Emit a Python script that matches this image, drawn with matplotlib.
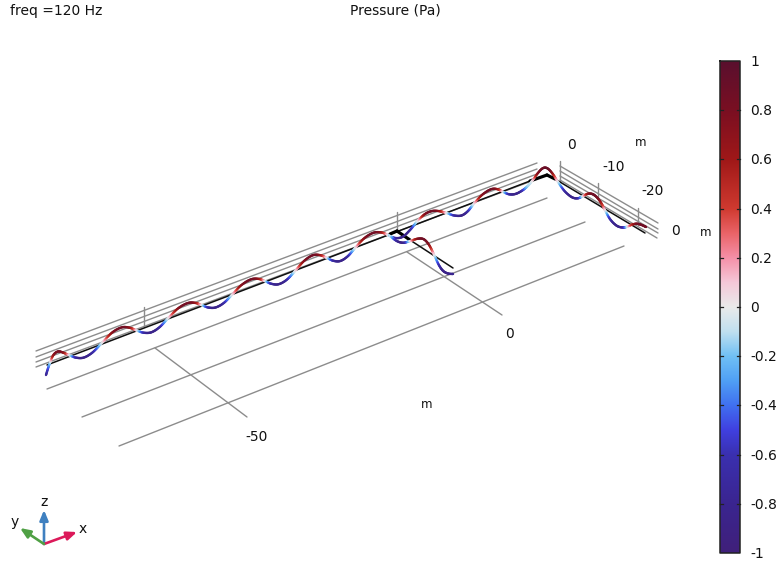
import numpy as np
import matplotlib
matplotlib.use("Agg")
import matplotlib.pyplot as plt
from matplotlib.collections import LineCollection
from matplotlib.colors import LinearSegmentedColormap, Normalize

# Pressure wave: screen x, screen y, pressure value
wave_main_x = [46, 49, 53, 58, 63, 70, 76, 84, 92, 103, 112, 123, 131, 137, 144, 151, 160, 168, 178, 189, 196, 202,
               208, 215, 224, 232, 241, 252, 260, 265, 271, 278, 287, 295, 304, 313, 321, 327, 333, 340, 348, 355,
               364, 374, 382, 388]
wave_main_y = [375, 366, 352, 351, 352, 356, 358, 359, 354, 342, 331, 325, 328, 331, 333, 334, 328, 318, 307, 301, 303, 305,
               308, 309, 304, 295, 284, 277, 279, 281, 284, 286, 281, 271, 260, 253, 255, 258, 261, 263, 257, 248,
               237, 231, 232, 235]
wave_main_p = [-0.8, -0.3, 0.6, 0.8, 0.7, 0.0, -0.7, -0.85, -0.7, 0.0, 0.7, 0.85, 0.65, 0.0, -0.65, -0.85, -0.7, 0.0, 0.7, 0.85, 0.65, 0.0,
               -0.65, -0.85, -0.7, 0.0, 0.7, 0.85, 0.65, 0.0, -0.65, -0.85, -0.7, 0.0, 0.7, 0.85, 0.65, 0.0, -0.65, -0.85, -0.7, 0.0,
               0.7, 0.85, 0.65, 0.0]
wave_east_x = [388, 395, 403, 410, 418, 425, 432, 440, 447, 454, 462, 468, 473, 482, 492, 498, 503, 509, 515, 522, 527, 532, 538, 543, 547,
               552, 558, 564, 573, 578, 583]
wave_east_y = [235, 239, 239, 230, 220, 213, 210, 211, 213, 216, 217, 212, 204, 194, 187, 189, 192, 195, 195, 191, 187, 182, 172, 167, 167,
               172, 182, 192, 199, 199, 196]
wave_east_p = [0.0, -0.65, -0.85, -0.7, 0.0, 0.7, 0.85, 0.65, 0.0, -0.65, -0.85, -0.7, 0.0, 0.7, 0.85, 0.65, 0.0, -0.65, -0.85, -0.7, -0.2, 0.0,
               0.7, 0.85, 0.9, 0.7, 0.0, -0.65, -0.85, -0.7, 0.0]
wave_side_x = [583, 588, 593, 598, 602, 605, 610, 617, 623, 628, 632, 637, 642, 646]
wave_side_y = [196, 193, 193, 198, 204, 210, 221, 227, 228, 227, 224, 223, 225, 227]
wave_side_p = [0.0, 0.65, 0.85, 0.8, 0.55, 0.0, -0.65, -0.85, -0.7, 0.0, 0.5, 0.8, 0.85, 0.85]
wave_branch_x = [390, 397, 403, 410, 418, 424, 429, 435, 439, 443, 448, 453]
wave_branch_y = [236, 242, 244, 241, 238, 238, 243, 257, 266, 272, 274, 274]
wave_branch_p = [0.0, -0.7, -0.85, 0.0, 0.7, 0.85, 0.7, 0.0, -0.6, -0.85, -0.85, -0.8]

# Grid and axis lines as (x0, y0, x1, y1)
grid_top_west = [(36, 351, 537, 163), (36, 357, 537, 169), (36, 362, 537, 174), (36, 367, 537, 179)]
grid_top_south = [(560, 166, 658, 223), (560, 171, 658, 229), (560, 176, 658, 233), (560, 180, 657, 238)]
grid_floor = [(47, 389, 547, 198), (82, 417, 585, 222), (119, 446, 624, 246), (155, 348, 247, 417), (407, 252, 502, 315)]
grid_ticks = [(144, 307, 144, 327), (397, 212, 397, 232), (560, 161, 560, 182), (598, 183, 598, 198), (638, 208, 638, 225)]
edge_thin = [(47, 365, 530, 181), (555, 179, 645, 233), (410, 240, 453, 268)]
edge_thick = [(530, 181, 547, 175), (547, 175, 555, 179), (390, 234, 397, 231), (397, 231, 410, 240)]

# Colorbar
cbar_ticks = [1, 0.8, 0.6, 0.4, 0.2, 0, -0.2, -0.4, -0.6, -0.8, -1]
cbar_labels = ["1", "0.8", "0.6", "0.4", "0.2", "0", "-0.2", "-0.4", "-0.6", "-0.8", "-1"]
cmap_values = [-1, -0.8, -0.6, -0.5, -0.4, -0.3, -0.2, -0.1, 0, 0.1, 0.2, 0.3, 0.4, 0.6, 0.8, 1]
cmap_colors = ["#40207a", "#3a2590", "#3a30b0", "#4040e0", "#4070f0", "#50a0f5", "#70c0f5", "#c0e0f0", "#eaeaea",
               "#f5c8d8", "#f590a8", "#ea6468", "#d03a30", "#a01818", "#7a0f22", "#5a0f2e"]

# Labels: text, x, y, size
labels = [("0", 571, 145, 10), ("-10", 614, 167, 10), ("-20", 653, 191, 10), ("0", 676, 231, 10),
          ("m", 641, 142, 8.5), ("m", 706, 233, 8.5), ("m", 427, 405, 8.5), ("0", 509, 334, 10), ("-50", 257, 437, 10)]

# Orientation triad: name, tip x, tip y, colour, label x, label y
triad_origin = (44, 544)
triad = [("z", 44, 510, "#3f80c0", 44, 502), ("x", 77, 532, "#dc1a5a", 83, 529), ("y", 20, 528, "#4fa044", 15, 522)]

fig = plt.figure(figsize=(7.8, 5.65), dpi=100)
ax = fig.add_axes([0, 0, 1, 1])
ax.set_xlim(0, 780)
ax.set_ylim(565, 0)
ax.axis("off")


def segs(lines, color, lw, z):
    s = [[(a, b), (c, d)] for a, b, c, d in lines]
    ax.add_collection(LineCollection(s, colors=color, linewidths=lw, zorder=z, capstyle="round"))


segs(grid_top_west + grid_top_south + grid_floor + grid_ticks, "#8c8c8c", 1.0, 1)
segs(edge_thin, "#101010", 1.1, 2)
segs(edge_thick, "#000000", 2.3, 2)

cmap = LinearSegmentedColormap.from_list("p", [((v + 1) / 2, c) for v, c in zip(cmap_values, cmap_colors)], N=512)
norm = Normalize(-1, 1)


def relax(a):
    # one light pass to remove reading jitter from the drawn curve
    a = np.asarray(a, float)
    b = a.copy()
    b[1:-1] = 0.25 * a[:-2] + 0.5 * a[1:-1] + 0.25 * a[2:]
    return b


def smooth(a, n=8):
    # Catmull-Rom drawing curve through the read points
    a = np.asarray(a, float)
    p = np.r_[a[0], a, a[-1]]
    out = []
    for i in range(1, len(p) - 2):
        t = np.linspace(0, 1, n, endpoint=False)
        out.append(0.5 * (2 * p[i] + (p[i + 1] - p[i - 1]) * t
                          + (2 * p[i - 1] - 5 * p[i] + 4 * p[i + 1] - p[i + 2]) * t ** 2
                          + (3 * p[i] - p[i - 1] - 3 * p[i + 1] + p[i + 2]) * t ** 3))
    out.append([a[-1]])
    return np.concatenate(out)


for xs, ys, ps in [(wave_main_x, wave_main_y, wave_main_p), (wave_east_x, wave_east_y, wave_east_p),
                   (wave_side_x, wave_side_y, wave_side_p), (wave_branch_x, wave_branch_y, wave_branch_p)]:
    sx, sy, sp = smooth(relax(xs)), smooth(relax(ys)), smooth(ps)
    pts = np.column_stack([sx, sy])
    lc = LineCollection(np.stack([pts[:-1], pts[1:]], axis=1), cmap=cmap, norm=norm, linewidths=1.7, zorder=3,
                        capstyle="round")
    lc.set_array(0.5 * (sp[:-1] + sp[1:]))
    ax.add_collection(lc)

for t, x, y, s in labels:
    ax.text(x, y, t, fontsize=s, ha="center", va="center", color="#111111")
ax.text(10, 11, "freq =120 Hz", fontsize=10, ha="left", va="center", color="#111111")
ax.text(395, 11, "Pressure (Pa)", fontsize=10, ha="center", va="center", color="#111111")

# Colorbar
cb_l, cb_r, cb_t, cb_b = 720, 740, 61, 553
grad = np.linspace(1, -1, 512).reshape(-1, 1)
ax.imshow(grad, cmap=cmap, norm=norm, extent=(cb_l, cb_r, cb_b, cb_t), aspect="auto", zorder=2, interpolation="bilinear")
ax.set_xlim(0, 780)
ax.set_ylim(565, 0)
ax.plot([cb_l, cb_r, cb_r, cb_l, cb_l], [cb_t, cb_t, cb_b, cb_b, cb_t], color="#222222", lw=1.1, zorder=4)
for v, lab in zip(cbar_ticks, cbar_labels):
    y = cb_t + (1 - v) / 2 * (cb_b - cb_t)
    if abs(v) != 1:
        ax.plot([cb_l, cb_l + 3], [y, y], color="#222222", lw=0.9, zorder=4)
        ax.plot([cb_r - 3, cb_r], [y, y], color="#222222", lw=0.9, zorder=4)
    ax.text(750, y + 1, lab, fontsize=10, ha="left", va="center", color="#111111")

# Triad
for name, tx, ty, c, lx, ly in triad:
    ax.annotate("", xy=(tx, ty), xytext=triad_origin,
                arrowprops=dict(arrowstyle="-|>,head_width=0.25,head_length=0.6", color=c, lw=1.9, shrinkA=0, shrinkB=0))
    ax.text(lx, ly, name, fontsize=10, ha="center", va="center", color="#111111")

fig.savefig("out.png", dpi=100)
